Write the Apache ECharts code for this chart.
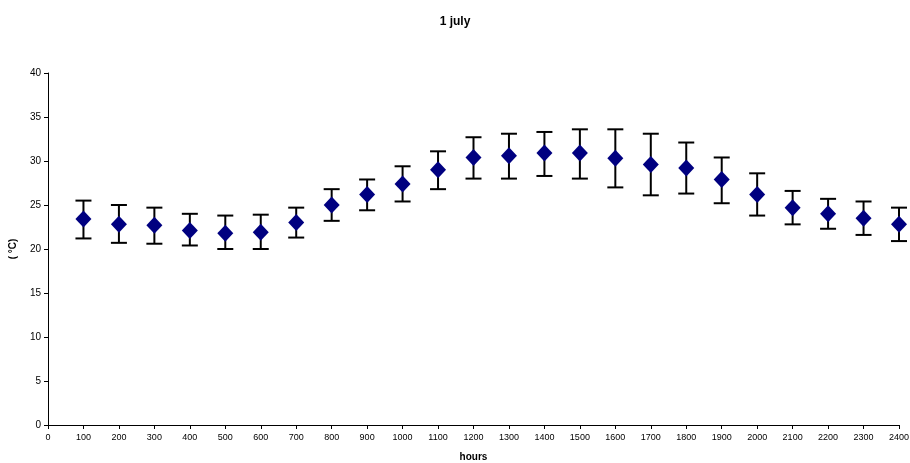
<!DOCTYPE html>
<html>
<head>
<meta charset="utf-8">
<script src="https://cdn.jsdelivr.net/npm/echarts@6/dist/echarts.min.js"></script>
<style>
  html, body { margin: 0; padding: 0; background: #fff; }
  #chart { width: 910px; height: 463px; }
</style>
</head>
<body>
<div id="chart"></div>
<script>
// Hourly temperature means with min/max error bars, 1 July
const hours = [100, 200, 300, 400, 500, 600, 700, 800, 900, 1000, 1100, 1200,
               1300, 1400, 1500, 1600, 1700, 1800, 1900, 2000, 2100, 2200, 2300, 2400];
const meanTemp = [23.4, 22.8, 22.7, 22.1, 21.8, 21.9, 23.0, 25.0, 26.2, 27.4, 29.0, 30.4,
                  30.6, 30.9, 30.9, 30.3, 29.6, 29.2, 27.9, 26.2, 24.7, 24.0, 23.5, 22.8];
const upperTemp = [25.5, 25.0, 24.7, 24.0, 23.8, 23.9, 24.7, 26.8, 27.9, 29.4, 31.1, 32.7,
                   33.1, 33.3, 33.6, 33.6, 33.1, 32.1, 30.4, 28.6, 26.6, 25.7, 25.4, 24.7];
const lowerTemp = [21.2, 20.7, 20.6, 20.4, 20.0, 20.0, 21.3, 23.2, 24.4, 25.4, 26.8, 28.0,
                   28.0, 28.3, 28.0, 27.0, 26.1, 26.3, 25.2, 23.8, 22.8, 22.3, 21.6, 20.9];

const fontFamily = 'Liberation Sans, Arial, sans-serif';

const meanData = hours.map((h, i) => [h, meanTemp[i]]);
const errData = hours.map((h, i) => [h, lowerTemp[i], upperTemp[i]]);

const chart = echarts.init(document.getElementById('chart'));
chart.setOption({
  animation: false,
  title: {
    text: '1 july',
    left: 'center',
    top: 11,
    textStyle: { fontFamily, fontSize: 12, fontWeight: 'bold', color: '#000' }
  },
  grid: { left: 48, right: 11, top: 73, bottom: 38, outerBoundsMode: 'none', containLabel: false },
  xAxis: {
    type: 'value',
    min: 0, max: 2400, interval: 100,
    name: 'hours',
    nameLocation: 'middle',
    nameGap: 27,
    nameTextStyle: { fontFamily, fontSize: 10, fontWeight: 'bold', color: '#000' },
    axisLine: { lineStyle: { color: '#000', width: 1 } },
    axisTick: { inside: false, length: 4, lineStyle: { color: '#000' } },
    axisLabel: { fontFamily, fontSize: 9, color: '#000', margin: 8, formatter: v => String(v) },
    splitLine: { show: false }
  },
  yAxis: {
    type: 'value',
    min: 0, max: 40, interval: 5,
    name: '( °C)',
    nameLocation: 'middle',
    nameGap: 30,
    nameRotate: 90,
    nameTextStyle: { fontFamily, fontSize: 10, fontWeight: 'bold', color: '#000' },
    axisLine: { show: true, lineStyle: { color: '#000', width: 1 } },
    axisTick: { show: true, inside: false, length: 4, lineStyle: { color: '#000' } },
    axisLabel: { fontFamily, fontSize: 10, color: '#000', margin: 7 },
    splitLine: { show: false }
  },
  series: [
    {
      type: 'custom',
      z: 1,
      data: errData,
      renderItem: function (params, api) {
        const x = api.value(0);
        const lo = api.coord([x, api.value(1)]);
        const hi = api.coord([x, api.value(2)]);
        const half = 8;
        const style = { stroke: '#000', lineWidth: 2 };
        return {
          type: 'group',
          children: [
            { type: 'line', shape: { x1: lo[0], y1: lo[1], x2: hi[0], y2: hi[1] }, style },
            { type: 'line', shape: { x1: hi[0] - half, y1: hi[1], x2: hi[0] + half, y2: hi[1] }, style },
            { type: 'line', shape: { x1: lo[0] - half, y1: lo[1], x2: lo[0] + half, y2: lo[1] }, style }
          ]
        };
      }
    },
    {
      type: 'scatter',
      z: 2,
      data: meanData,
      symbol: 'diamond',
      symbolSize: [16, 17],
      itemStyle: { color: '#000080', opacity: 1 }
    }
  ]
});
</script>
</body>
</html>
